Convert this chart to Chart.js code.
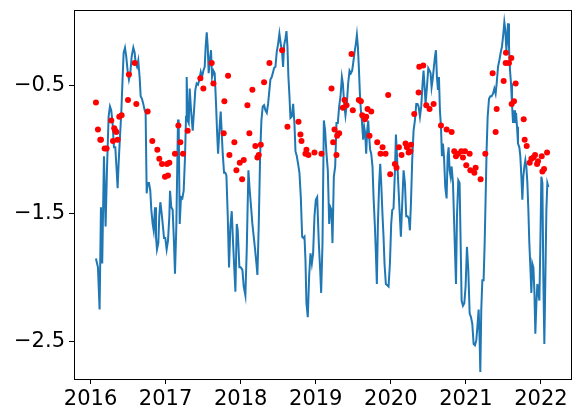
<!DOCTYPE html>
<html>
<head>
<meta charset="utf-8">
<script src="https://cdn.jsdelivr.net/npm/chart.js@4.4.1/dist/chart.umd.min.js"></script>
<style>
  html, body { margin: 0; padding: 0; background: #fff; }
  .chartBox { width: 579px; height: 419px; }
</style>
</head>
<body>
<div class="chartBox"><canvas id="chart" width="579" height="419"></canvas></div>
<script>
// blue line: decimal year / value
const lineDates = [
  2016.072, 2016.099, 2016.121, 2016.139, 2016.156, 2016.179, 2016.201, 2016.219, 2016.241, 2016.259,
  2016.276, 2016.294, 2016.312, 2016.330, 2016.348, 2016.361, 2016.374, 2016.392, 2016.410, 2016.428,
  2016.441, 2016.459, 2016.476, 2016.494, 2016.512, 2016.530, 2016.548, 2016.570, 2016.588, 2016.601,
  2016.619, 2016.636, 2016.654, 2016.668, 2016.685, 2016.703, 2016.721, 2016.734, 2016.748, 2016.761,
  2016.779, 2016.796, 2016.810, 2016.828, 2016.841, 2016.859, 2016.872, 2016.885, 2016.903, 2016.916,
  2016.930, 2016.948, 2016.965, 2016.979, 2016.996, 2017.014, 2017.032, 2017.050, 2017.059,
  2017.076, 2017.094, 2017.112, 2017.125, 2017.143, 2017.165, 2017.174, 2017.188, 2017.205, 2017.223,
  2017.241, 2017.259, 2017.272, 2017.281, 2017.294, 2017.308, 2017.321, 2017.339, 2017.361, 2017.379,
  2017.396, 2017.414, 2017.432, 2017.450, 2017.468, 2017.485, 2017.503, 2017.521, 2017.534, 2017.548,
  2017.561, 2017.574, 2017.588, 2017.605, 2017.619, 2017.637, 2017.654, 2017.672, 2017.685, 2017.699,
  2017.716, 2017.734, 2017.748, 2017.761, 2017.779, 2017.796, 2017.810, 2017.828, 2017.845, 2017.863,
  2017.881, 2017.899, 2017.916, 2017.930, 2017.948, 2017.961, 2017.983, 2018.001, 2018.023, 2018.041,
  2018.063, 2018.081, 2018.103, 2018.121, 2018.139, 2018.156, 2018.174, 2018.192, 2018.210, 2018.223,
  2018.241, 2018.259, 2018.276, 2018.294, 2018.312, 2018.330, 2018.348, 2018.365, 2018.383, 2018.396,
  2018.414, 2018.432, 2018.445, 2018.463, 2018.481, 2018.499, 2018.516, 2018.534, 2018.552, 2018.565,
  2018.579, 2018.596, 2018.610, 2018.623, 2018.636, 2018.650, 2018.663, 2018.681, 2018.699, 2018.716,
  2018.730, 2018.748, 2018.765, 2018.783, 2018.801, 2018.819, 2018.836, 2018.850, 2018.863, 2018.876,
  2018.894, 2018.912, 2018.930, 2018.948, 2018.965, 2018.983, 2019.001, 2019.019,
  2019.041, 2019.059, 2019.072, 2019.090, 2019.108, 2019.125, 2019.143, 2019.161, 2019.179, 2019.196,
  2019.210, 2019.223, 2019.241, 2019.259, 2019.276, 2019.294, 2019.312, 2019.330, 2019.348, 2019.361,
  2019.379, 2019.396, 2019.414, 2019.432, 2019.450, 2019.468, 2019.485, 2019.499, 2019.516, 2019.534,
  2019.548, 2019.561, 2019.574, 2019.588, 2019.601, 2019.614, 2019.632, 2019.645, 2019.659, 2019.672,
  2019.685, 2019.699, 2019.712, 2019.725, 2019.739, 2019.756, 2019.770, 2019.788, 2019.801, 2019.814,
  2019.828, 2019.845, 2019.859, 2019.872, 2019.890, 2019.903, 2019.916, 2019.934, 2019.952, 2019.970,
  2019.988, 2020.005,
  2020.019, 2020.036, 2020.054, 2020.068, 2020.081, 2020.099, 2020.116, 2020.134, 2020.152, 2020.170,
  2020.188, 2020.205, 2020.223, 2020.241, 2020.254, 2020.268, 2020.285, 2020.303, 2020.321, 2020.339,
  2020.356, 2020.370, 2020.388, 2020.405, 2020.423, 2020.436, 2020.450, 2020.463, 2020.481, 2020.499,
  2020.516, 2020.530, 2020.543, 2020.557, 2020.574, 2020.588, 2020.601, 2020.614, 2020.628, 2020.641,
  2020.654, 2020.668, 2020.681, 2020.694, 2020.708, 2020.725, 2020.743, 2020.757, 2020.770, 2020.783,
  2020.797, 2020.810, 2020.828, 2020.841, 2020.854, 2020.868, 2020.881, 2020.899, 2020.916, 2020.930,
  2020.943, 2020.961, 2020.979, 2020.996,
  2021.014, 2021.032, 2021.050, 2021.068, 2021.085, 2021.103, 2021.121, 2021.139, 2021.156, 2021.170,
  2021.183, 2021.192, 2021.205, 2021.219, 2021.236, 2021.250, 2021.263, 2021.276, 2021.290, 2021.308,
  2021.325, 2021.343, 2021.361, 2021.379, 2021.396, 2021.410, 2021.428, 2021.445, 2021.463, 2021.481,
  2021.499, 2021.512, 2021.525, 2021.539, 2021.552, 2021.561, 2021.574, 2021.588, 2021.601, 2021.614,
  2021.628, 2021.641, 2021.654, 2021.668, 2021.681, 2021.694, 2021.712, 2021.725, 2021.739, 2021.752,
  2021.765, 2021.779, 2021.792, 2021.805, 2021.819, 2021.832, 2021.845, 2021.859, 2021.872, 2021.885,
  2021.899, 2021.912, 2021.925, 2021.939, 2021.952, 2021.965, 2021.979, 2021.992, 2022.005, 2022.019,
  2022.032, 2022.045, 2022.059, 2022.072, 2022.085, 2022.099
];
const lineValues = [
  -1.85, -1.92, -2.25, -1.45, -1.89, -1.05, -1.60, -1.16, -0.74, -0.66,
  -0.69, -0.79, -0.98, -0.98, -1.16, -1.30, -1.11, -0.90, -0.71, -0.43,
  -0.24, -0.20, -0.27, -0.38, -0.45, -0.40, -0.27, -0.20, -0.24, -0.32,
  -0.35, -0.30, -0.43, -0.58, -0.60, -0.64, -0.69, -0.71, -1.34, -1.26,
  -1.26, -1.32, -1.47, -1.58, -1.63, -1.45, -1.68, -1.78, -1.73, -1.52,
  -1.41, -1.50, -1.60, -1.69, -1.69, -1.78, -1.71, -1.52, -1.32,
  -1.45, -1.47, -1.73, -1.97, -1.60, -0.77, -0.77, -1.58, -1.37, -1.38,
  -1.32, -1.05, -0.74, -0.43, -0.77, -0.79, -0.52, -0.69, -0.85, -0.69,
  -0.53, -0.48, -0.49, -0.45, -0.39, -0.43, -0.38, -0.35, -0.19, -0.08,
  -0.19, -0.40, -0.30, -0.22, -0.43, -0.38, -0.40, -0.64, -0.85, -1.03,
  -0.85, -0.70, -0.87, -1.03, -1.18, -1.18, -1.20, -1.52, -1.92, -1.60,
  -1.48, -1.73, -1.94, -2.11, -1.58, -1.63, -1.92, -1.92, -1.94, -2.07,
  -2.14, -1.78, -1.16, -1.32, -1.45, -1.58, -1.68, -1.78, -1.89, -1.98,
  -1.58, -1.05, -0.77, -0.66, -0.65, -0.69, -0.71, -0.64, -0.53, -0.45,
  -0.43, -0.39, -0.36, -0.35, -0.23, -0.17, -0.09, -0.17, -0.24, -0.35,
  -0.18, -0.13, -0.07, -0.19, -0.43, -0.58, -0.75, -0.74, -0.64, -0.79,
  -1.01, -1.05, -1.11, -1.18, -1.37, -1.68, -1.69, -1.68, -1.86, -2.20,
  -2.31, -1.99, -1.81, -1.89, -1.81, -1.52, -1.39, -1.37,
  -1.73, -1.94, -2.12, -1.73, -0.77, -0.85, -1.03, -1.16, -1.58, -1.45,
  -1.47, -1.73, -1.21, -1.13, -0.79, -0.79, -0.66, -0.58, -0.43, -0.48,
  -0.64, -0.73, -0.64, -0.48, -0.38, -0.40, -0.38, -0.32, -0.24, -0.17,
  -0.10, -0.19, -0.35, -0.56, -0.69, -0.77, -0.92, -0.82, -0.87, -1.03,
  -0.85, -0.77, -0.90, -1.00, -1.03, -1.13, -1.37, -1.60, -1.81, -2.05,
  -1.58, -1.26, -1.11, -1.26, -1.52, -1.68, -1.89, -2.05, -2.06, -2.07,
  -1.89, -1.58,
  -1.47, -1.46, -1.18, -0.88, -1.03, -1.26, -1.47, -1.68, -1.42, -1.16,
  -1.26, -1.52, -1.52, -1.54, -1.63, -1.42, -1.08, -0.85, -0.77, -0.64,
  -0.64, -0.66, -0.74, -0.66, -0.48, -0.38, -0.51, -0.64, -0.51, -0.36,
  -0.38, -0.40, -0.51, -0.45, -0.35, -0.27, -0.22, -0.43, -0.53, -0.43,
  -0.69, -0.82, -1.05, -0.95, -1.05, -1.29, -1.38, -1.05, -0.98, -1.16,
  -1.21, -1.13, -1.26, -1.52, -1.78, -2.05, -1.52, -1.24, -1.26, -1.73,
  -2.18, -2.22, -2.20, -2.07,
  -1.76, -1.94, -2.28, -2.31, -2.36, -2.52, -2.53, -2.49, -2.36, -2.25,
  -2.49, -2.74, -2.25, -2.02, -2.02, -1.73, -1.37, -1.00, -0.74, -0.60,
  -0.58, -0.58, -0.56, -0.52, -0.56, -0.48, -0.35, -0.30, -0.24, -0.19,
  -0.09, 0.00, -0.06, -0.22, -0.11, -0.01, -0.19, -0.38, -0.48, -0.64,
  -0.79, -0.69, -0.79, -0.71, -0.82, -0.95, -0.98, -1.05, -1.21, -1.39,
  -1.21, -1.13, -1.08, -1.13, -1.26, -1.47, -1.73, -1.92, -2.12, -1.89,
  -1.92, -2.10, -2.44, -2.20, -2.05, -2.12, -2.18, -1.73, -1.21, -1.26,
  -2.02, -2.52, -1.99, -1.47, -1.26, -1.29
];

// red dots
const dotDates = [
  2016.072, 2016.099, 2016.130, 2016.139, 2016.188, 2016.214, 2016.276, 2016.299, 2016.316, 2016.330,
  2016.343, 2016.361, 2016.383, 2016.414, 2016.499, 2016.512, 2016.588, 2016.610, 2016.761, 2016.823,
  2016.890, 2016.916, 2016.952, 2016.992, 2017.019, 2017.032, 2017.050,
  2017.125, 2017.170, 2017.196, 2017.232, 2017.294, 2017.463, 2017.503, 2017.614, 2017.637, 2017.774,
  2017.783, 2017.832, 2017.850, 2017.916, 2017.943, 2017.988, 2018.019, 2018.041,
  2018.090, 2018.116, 2018.156, 2018.196, 2018.223, 2018.241, 2018.268, 2018.312, 2018.383, 2018.552,
  2018.623, 2018.770, 2018.796, 2018.810, 2018.863, 2018.876, 2018.903, 2018.983,
  2019.076, 2019.210, 2019.232, 2019.250, 2019.276, 2019.285, 2019.312, 2019.361, 2019.383, 2019.410,
  2019.476, 2019.494, 2019.574, 2019.601, 2019.619, 2019.645, 2019.654, 2019.672, 2019.690, 2019.716,
  2019.739, 2019.819, 2019.863, 2019.890, 2019.930, 2019.965, 2019.992,
  2020.054, 2020.076, 2020.108, 2020.143, 2020.196, 2020.214, 2020.237, 2020.259, 2020.268, 2020.312,
  2020.370, 2020.379, 2020.432, 2020.472, 2020.516, 2020.570, 2020.668, 2020.743, 2020.810, 2020.845,
  2020.868, 2020.899, 2020.939, 2020.961, 2020.988, 2021.005,
  2021.050, 2021.059, 2021.112, 2021.130, 2021.196, 2021.259, 2021.356, 2021.396, 2021.410, 2021.503,
  2021.530, 2021.534, 2021.574, 2021.605, 2021.610, 2021.641, 2021.663, 2021.770, 2021.783, 2021.810,
  2021.850, 2021.872, 2021.899, 2021.921, 2021.948, 2021.961, 2022.010, 2022.019, 2022.041, 2022.081
];
const dotValues = [
  -0.63, -0.84, -0.92, -0.92, -0.99, -0.99, -0.77, -0.93, -0.83, -0.85,
  -0.86, -0.92, -0.74, -0.73, -0.61, -0.41, -0.32, -0.64, -0.70, -0.93,
  -1.00, -1.07, -1.11, -1.21, -1.11, -1.20, -1.10,
  -1.03, -0.81, -0.94, -1.03, -0.85, -0.44, -0.52, -0.32, -0.48, -0.87,
  -0.62, -0.42, -1.04, -0.94, -1.16, -1.10, -1.23, -1.08,
  -0.65, -0.87, -0.53, -0.97, -1.06, -1.04, -0.96, -0.47, -0.32, -0.22,
  -0.82, -0.78, -0.88, -0.93, -1.03, -1.00, -1.04, -1.02,
  -1.03, -0.52, -0.94, -0.84, -1.04, -0.89, -0.87, -0.67, -0.61, -0.65,
  -0.25, -0.69, -0.61, -0.62, -0.73, -0.74, -0.76, -0.74, -0.68, -0.89,
  -0.70, -0.94, -1.03, -0.98, -1.03, -0.57, -1.19,
  -1.11, -1.14, -0.98, -1.04, -0.95, -0.98, -1.02, -1.01, -0.96, -0.72,
  -0.55, -0.35, -0.34, -0.65, -0.68, -0.64, -0.81, -0.84, -0.86, -1.01,
  -1.05, -1.03, -1.01, -1.06, -1.01, -1.12,
  -1.03, -1.16, -1.18, -1.14, -1.23, -1.03, -0.40, -0.86, -0.68, -0.46,
  -0.32, -0.24, -0.32, -0.28, -0.64, -0.62, -0.48, -0.76, -0.92, -0.97,
  -1.10, -1.07, -1.06, -1.04, -1.11, -1.09, -1.05, -1.17, -1.15, -1.02
];

const xTicks = [2016, 2017, 2018, 2019, 2020, 2021, 2022];
const yTicks = [-0.5, -1.5, -2.5];

const lineData = lineDates.map((d, i) => ({ x: d, y: lineValues[i] }));
const dotData = dotDates.map((d, i) => ({ x: d, y: dotValues[i] }));

const tickFont = { family: "DejaVu Sans", size: 21 };

// matplotlib style box round the axes
const boxPlugin = {
  id: "box",
  afterDraw(chart) {
    const { ctx, chartArea: a } = chart;
    ctx.save();
    ctx.strokeStyle = "#000";
    ctx.lineWidth = 1;
    ctx.strokeRect(Math.round(a.left) + 0.5, Math.round(a.top) + 0.5,
      Math.round(a.right - a.left), Math.round(a.bottom - a.top));
    ctx.restore();
  },
};

new Chart(document.getElementById("chart"), {
  type: "line",
  data: {
    datasets: [
      {
        type: "scatter",
        data: dotData,
        backgroundColor: "#ff0000",
        borderWidth: 0,
        pointRadius: 3,
        showLine: false,
        order: 0,
      },
      {
        data: lineData,
        borderColor: "#1f77b4",
        borderWidth: 2,
        pointRadius: 0,
        tension: 0,
        fill: false,
        order: 1,
      },
    ],
  },
  options: {
    responsive: false,
    animation: false,
    events: [],
    layout: { padding: { top: 10, right: 8, left: 0, bottom: 0 } },
    plugins: { legend: { display: false }, tooltip: { enabled: false } },
    scales: {
      x: {
        type: "linear",
        min: 2015.78,
        max: 2022.4,
        afterBuildTicks: (s) => { s.ticks = xTicks.map((v) => ({ value: v })); },
        afterFit: (s) => { s.height = 40; s.paddingLeft = 0; s.paddingRight = 0; },
        grid: { drawOnChartArea: false, tickLength: 5, tickColor: "#000", tickWidth: 1 },
        border: { color: "#000", width: 1 },
        ticks: { color: "#000", font: tickFont, padding: 3, maxRotation: 0, autoSkip: false,
          callback: (v) => String(v) },
      },
      y: {
        min: -2.794,
        max: 0.095,
        afterBuildTicks: (s) => { s.ticks = yTicks.map((v) => ({ value: v })); },
        afterFit: (s) => { s.width = 74; s.paddingTop = 0; s.paddingBottom = 0; },
        grid: { drawOnChartArea: false, tickLength: 5, tickColor: "#000", tickWidth: 1 },
        border: { color: "#000", width: 1 },
        ticks: { color: "#000", font: tickFont, padding: 4, autoSkip: false,
          callback: (v) => v.toFixed(1).replace("-", "\u2212") },
      },
    },
  },
  plugins: [boxPlugin],
});
</script>
</body>
</html>
